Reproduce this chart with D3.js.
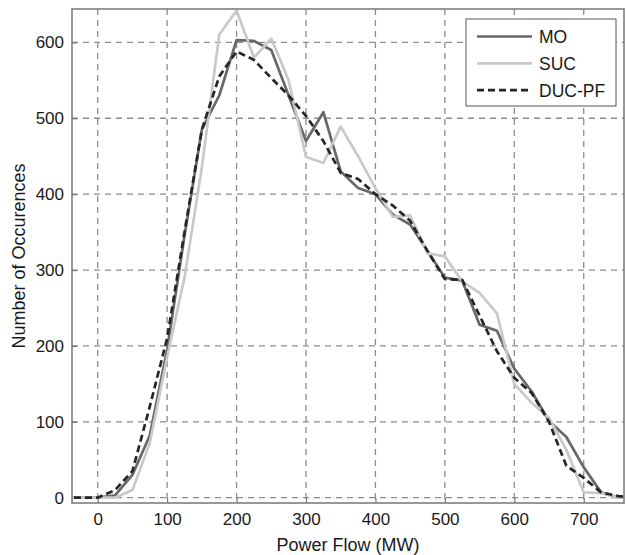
<!DOCTYPE html>
<html>
<head>
<meta charset="utf-8">
<script src="https://cdn.jsdelivr.net/npm/d3@7"></script>
<style>
  body { margin: 0; background: #fff; }
  svg { display: block; font-family: "Liberation Sans", Arial, sans-serif; }
</style>
</head>
<body>
<svg id="chart" width="626" height="555"></svg>
<script>
// power flow bins (MW)
const flow = [-50, -25, 0, 25, 50, 75, 100, 125, 150, 175, 200, 225, 250, 275, 300, 325, 350,
    375, 400, 425, 450, 475, 500, 525, 550, 575, 600, 625, 650, 675, 700, 725, 750, 775];
const mo = [0, 0, 0, 3, 30, 82, 195, 345, 485, 530, 603, 602, 590, 530, 470, 508, 430,
    408, 400, 373, 360, 325, 290, 286, 228, 220, 170, 140, 101, 80, 40, 7, 0, 0];
const suc = [0, 0, 0, 0, 10, 72, 185, 290, 435, 610, 642, 580, 605, 550, 449, 441, 489,
    450, 408, 370, 372, 322, 318, 285, 270, 243, 150, 125, 105, 63, 7, 6, 0, 0];
const ducpf = [0, 0, 0, 10, 35, 120, 210, 350, 485, 555, 588, 577, 553, 530, 503, 470, 428,
    420, 400, 385, 365, 325, 288, 287, 240, 193, 158, 138, 100, 42, 26, 7, 2, 0];
const xTicks = [0, 100, 200, 300, 400, 500, 600, 700];
const yTicks = [0, 100, 200, 300, 400, 500, 600];

const series = [
    { name: "MO", vals: mo, color: "#686868", dash: null },
    { name: "SUC", vals: suc, color: "#c9c9c9", dash: null },
    { name: "DUC-PF", vals: ducpf, color: "#262626", dash: "7,4" }
];

const L = 72, R = 624, T = 9, B = 503;
const svg = d3.select("#chart");
const x = d3.scaleLinear().domain([-37, 758]).range([L, R]);
const y = d3.scaleLinear().domain([-7, 644]).range([B, T]);

svg.append("clipPath").attr("id", "plotclip")
    .append("rect").attr("x", L).attr("y", T).attr("width", R - L).attr("height", B - T);

// grid
const grid = svg.append("g").attr("stroke", "#8c8c8c").attr("stroke-width", 1.3)
    .attr("stroke-dasharray", "6,5");
xTicks.forEach(v => grid.append("line").attr("x1", x(v)).attr("x2", x(v)).attr("y1", T).attr("y2", B));
yTicks.forEach(v => grid.append("line").attr("x1", L).attr("x2", R).attr("y1", y(v)).attr("y2", y(v)));

// axes (inward ticks)
const xa = svg.append("g").attr("transform", `translate(0,${B})`)
    .call(d3.axisBottom(x).tickValues(xTicks).tickSizeInner(-5).tickSizeOuter(0).tickPadding(10));
const ya = svg.append("g").attr("transform", `translate(${L},0)`)
    .call(d3.axisLeft(y).tickValues(yTicks).tickSizeInner(-5).tickSizeOuter(0).tickPadding(8));
[xa, ya].forEach(a => {
    a.select(".domain").remove();
    a.selectAll(".tick line").attr("stroke", "#777").attr("stroke-width", 1.2);
    a.selectAll(".tick text").attr("font-size", 17).attr("fill", "#1a1a1a")
        .attr("font-family", "'Liberation Sans', Arial, sans-serif");
});

// lines
const line = d3.line().x((d, i) => x(flow[i])).y(d => y(d));
const plot = svg.append("g").attr("clip-path", "url(#plotclip)");
series.forEach(s => {
    plot.append("path").attr("d", line(s.vals)).attr("fill", "none")
        .attr("stroke", s.color).attr("stroke-width", 2.7).attr("stroke-linejoin", "round")
        .attr("stroke-dasharray", s.dash);
});

// frame
svg.append("rect").attr("x", L).attr("y", T).attr("width", R - L).attr("height", B - T)
    .attr("fill", "none").attr("stroke", "#777").attr("stroke-width", 1.5);

// legend
const lg = svg.append("g");
lg.append("rect").attr("x", 466).attr("y", 19).attr("width", 150).attr("height", 87)
    .attr("fill", "#fff").attr("stroke", "#555").attr("stroke-width", 1);
series.forEach((s, i) => {
    const ly = 36.5 + i * 26.8;
    lg.append("line").attr("x1", 477).attr("x2", 532).attr("y1", ly).attr("y2", ly)
        .attr("stroke", s.color).attr("stroke-width", 2.7).attr("stroke-dasharray", s.dash);
    lg.append("text").attr("x", 539).attr("y", ly + 6.5).attr("font-size", 17.5)
        .attr("fill", "#1a1a1a").text(s.name);
});

// axis titles
svg.append("text").attr("x", (L + R) / 2).attr("y", 551).attr("text-anchor", "middle")
    .attr("font-size", 18).attr("fill", "#1a1a1a").text("Power Flow (MW)");
svg.append("text").attr("transform", `translate(25,${(T + B) / 2}) rotate(-90)`)
    .attr("text-anchor", "middle").attr("font-size", 18).attr("fill", "#1a1a1a")
    .text("Number of Occurences");
</script>
</body>
</html>
